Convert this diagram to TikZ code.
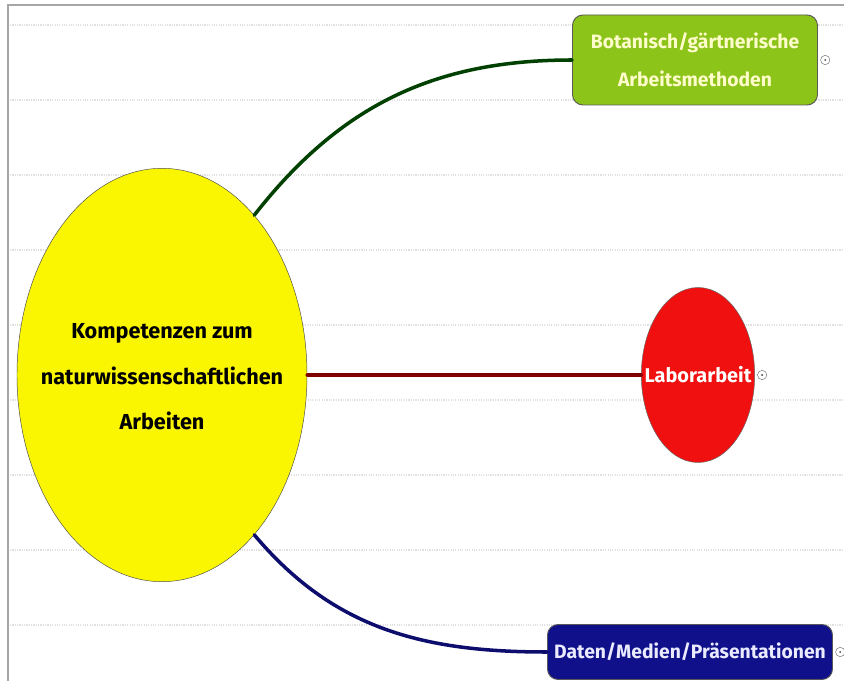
\documentclass[tikz,border=0pt]{standalone}
\usepackage{fontspec}
\setmainfont{Fira Sans}
\usetikzlibrary{positioning,shapes.geometric}
\definecolor{gelb}{HTML}{FAF500}
\definecolor{gruen}{HTML}{8CC41A}
\definecolor{rot}{HTML}{F01010}
\definecolor{blau}{HTML}{10108A}
\begin{document}
\begin{tikzpicture}[x=0.03cm,y=-0.03cm,
  ast/.style={draw=black!65,line width=0.8pt,rounded corners=9pt,align=center,font=\bfseries\fontsize{16.5}{32}\selectfont},
  knopf/.style={circle,draw=black!55,fill=white,inner sep=0pt,minimum size=0.28cm,
    path picture={\fill[black!60] (path picture bounding box.center) circle (1pt);}},
  zweig/.style={line width=3pt,line cap=round}]
  % hintergrund + raster
  \useasboundingbox (0,0) rectangle (844,681);
  \fill[white] (0,0) rectangle (844,681);
  \foreach \y in {25,100,175,250,325,400,475,550,625}
    \draw[black!12,densely dotted,line width=1pt] (10,\y) -- (844,\y);
  \draw[black!35,line width=1.2pt] (8,681) -- (8,5) -- (844,5);
  % hauptknoten
  \node[ellipse,draw=black!70,fill=gelb,minimum width=8.7cm,minimum height=12.4cm,inner sep=0pt,
    font=\bfseries\fontsize{18.5}{38.5}\selectfont] (ku) at (162,375)
    {\makebox[0pt]{\def\arraystretch{1}\begin{tabular}{@{}c@{}}Kompetenzen zum\\naturwissenschaftlichen\\Arbeiten\end{tabular}}};
  % zweige
  \node[ast,fill=gruen,text=yellow!20,minimum width=7.35cm,minimum height=2.7cm] (bot) at (695,60)
    {Botanisch/gärtnerische\\Arbeitsmethoden};
  \node[ellipse,draw=black!60,fill=rot,text=white,minimum width=3.4cm,minimum height=5.25cm,inner sep=0pt,
    font=\bfseries\fontsize{17}{20}\selectfont] (lab) at (698,375) {\makebox[0pt]{Laborarbeit}};
  \node[ast,fill=blau,text=blue!8,minimum width=8.55cm,minimum height=1.65cm] (dat) at (690,652)
    {Daten/Medien/Präsentationen};
  \node[knopf,right=2pt of bot] (kb) {};
  \node[knopf,right=2pt of lab] (kl) {};
  \node[knopf,right=2pt of dat] (kd) {};
  % verbindungen
  \draw[zweig,green!25!black] (ku.60) to[out=52,in=180] (bot.west);
  \draw[zweig,red!50!black] (ku.east) -- (lab.west);
  \draw[zweig,blau!80!black] (ku.-60) to[out=-50,in=180] (dat.west);
\end{tikzpicture}
\end{document}
